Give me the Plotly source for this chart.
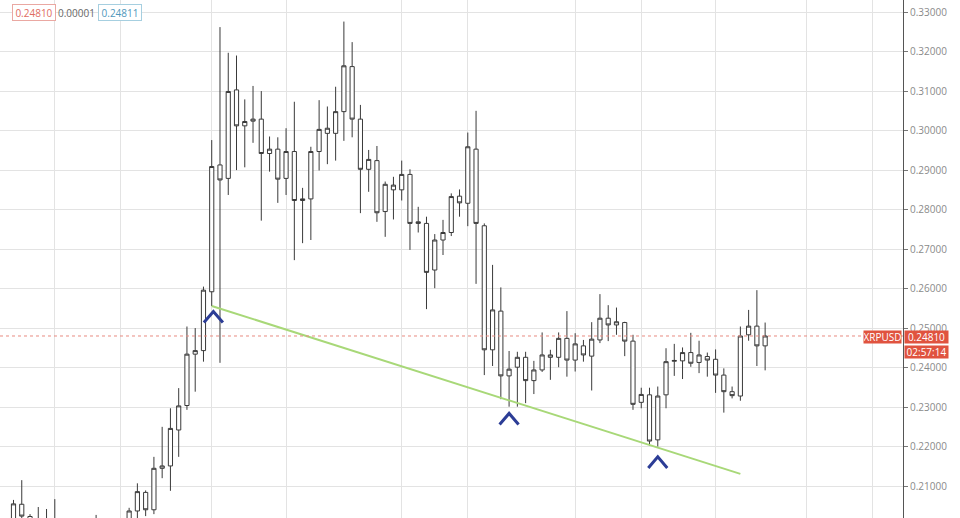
import plotly.graph_objects as go

# ---- data ----
opens = [0.2012, 0.2055, 0.2024, 0.2000, 0.2015, 0.1995, 0.2010, 0.1980, 0.1965, 0.1975,
         0.1990, 0.2005, 0.1985, 0.2000, 0.2010, 0.2038, 0.2085, 0.2041, 0.2146, 0.2152,
         0.2243, 0.2305, 0.2435, 0.2444, 0.2593, 0.2914, 0.2880, 0.3104, 0.3013, 0.3025,
         0.3030, 0.2943, 0.2954, 0.2880, 0.2948, 0.2824, 0.2828, 0.2948, 0.2994, 0.2994,
         0.3049, 0.3163, 0.3030, 0.2903, 0.2925, 0.2796, 0.2851, 0.2851, 0.2890, 0.2766,
         0.2766, 0.2648, 0.2724, 0.2743, 0.2835, 0.2817, 0.2954, 0.2760, 0.2446, 0.2544,
         0.2380, 0.2402, 0.2427, 0.2368, 0.2395, 0.2427, 0.2427, 0.2475, 0.2420, 0.2456,
         0.2430, 0.2471, 0.2526, 0.2509, 0.2515, 0.2468, 0.2313, 0.2332, 0.2218, 0.2332,
         0.2417, 0.2418, 0.2439, 0.2414, 0.2429, 0.2422, 0.2382, 0.2340, 0.2329, 0.2484,
         0.2506, 0.2456]
highs = [0.2066, 0.2116, 0.2030, 0.2048, 0.2043, 0.2068, 0.2018, 0.1995, 0.1990, 0.2010,
         0.2028, 0.2015, 0.2018, 0.2015, 0.2046, 0.2108, 0.2090, 0.2175, 0.2251, 0.2298,
         0.2349, 0.2505, 0.2501, 0.2606, 0.2977, 0.3263, 0.3198, 0.3191, 0.3080, 0.3114,
         0.3101, 0.2986, 0.2984, 0.3007, 0.3074, 0.2856, 0.2960, 0.3078, 0.3062, 0.3112,
         0.3277, 0.3225, 0.3066, 0.2952, 0.2962, 0.2872, 0.2884, 0.2925, 0.2903, 0.2808,
         0.2783, 0.2739, 0.2775, 0.2842, 0.2852, 0.2996, 0.3051, 0.2766, 0.2661, 0.2604,
         0.2443, 0.2441, 0.2441, 0.2418, 0.2490, 0.2446, 0.2490, 0.2544, 0.2488, 0.2471,
         0.2516, 0.2587, 0.2559, 0.2553, 0.2517, 0.2484, 0.2350, 0.2350, 0.2353, 0.2450,
         0.2461, 0.2452, 0.2489, 0.2469, 0.2439, 0.2447, 0.2399, 0.2353, 0.2505, 0.2547,
         0.2597, 0.2515]
lows = [0.1990, 0.2000, 0.1985, 0.1975, 0.1970, 0.1960, 0.1950, 0.1930, 0.1940, 0.1955,
        0.1970, 0.1960, 0.1965, 0.1975, 0.1995, 0.2020, 0.2025, 0.2030, 0.2121, 0.2089,
        0.2175, 0.2294, 0.2340, 0.2416, 0.2557, 0.2413, 0.2838, 0.2901, 0.2908, 0.2970,
        0.2773, 0.2897, 0.2818, 0.2838, 0.2673, 0.2716, 0.2724, 0.2900, 0.2916, 0.2925,
        0.2975, 0.2984, 0.2792, 0.2846, 0.2770, 0.2732, 0.2776, 0.2824, 0.2699, 0.2743,
        0.2549, 0.2602, 0.2686, 0.2734, 0.2783, 0.2759, 0.2613, 0.2382, 0.2405, 0.2321,
        0.2302, 0.2302, 0.2311, 0.2334, 0.2390, 0.2370, 0.2402, 0.2378, 0.2391, 0.2416,
        0.2343, 0.2463, 0.2468, 0.2484, 0.2430, 0.2294, 0.2298, 0.2203, 0.2201, 0.2298,
        0.2380, 0.2372, 0.2403, 0.2387, 0.2378, 0.2337, 0.2287, 0.2323, 0.2317, 0.2469,
        0.2405, 0.2394]
closes = [0.2056, 0.2025, 0.2000, 0.2015, 0.1995, 0.2010, 0.1980, 0.1965, 0.1975, 0.1990,
          0.2005, 0.1985, 0.2000, 0.2010, 0.2038, 0.2087, 0.2041, 0.2146, 0.2152, 0.2247,
          0.2304, 0.2435, 0.2444, 0.2597, 0.2910, 0.2876, 0.3100, 0.3013, 0.3024, 0.3030,
          0.2943, 0.2954, 0.2878, 0.2948, 0.2824, 0.2828, 0.2948, 0.3004, 0.3007, 0.3049,
          0.3165, 0.3030, 0.2903, 0.2928, 0.2793, 0.2865, 0.2863, 0.2890, 0.2766, 0.2770,
          0.2642, 0.2724, 0.2743, 0.2834, 0.2818, 0.2960, 0.2766, 0.2446, 0.2547, 0.2380,
          0.2397, 0.2427, 0.2368, 0.2395, 0.2433, 0.2433, 0.2475, 0.2420, 0.2461, 0.2433,
          0.2473, 0.2526, 0.2509, 0.2517, 0.2468, 0.2308, 0.2333, 0.2215, 0.2329, 0.2416,
          0.2419, 0.2439, 0.2412, 0.2433, 0.2420, 0.2382, 0.2340, 0.2330, 0.2481, 0.2506,
          0.2456, 0.2481]
bars = list(range(len(closes)))

symbol = "XRPUSD"
last_price = 0.24810
ask_price = 0.24811
spread = "0.00001"
countdown = "02:57:14"

# time-grid positions (bar numbers of the vertical grid lines)
grid_bars = [5, 13, 24, 33, 47, 55, 68, 76, 85, 96, 104]
price_ticks = [0.21, 0.22, 0.23, 0.24, 0.25, 0.26, 0.27, 0.28, 0.29, 0.30, 0.31, 0.32, 0.33]

# trend line (bar, price) and pivot markers
trend_bars = [24, 88]
trend_prices = [0.2557, 0.2132]
pivot_bars = [24.2, 60, 78]
pivot_prices = [0.2543, 0.2285, 0.2175]

X_RANGE = [-1.634, 107.69]
Y_RANGE = [0.20202, 0.33316]
PLOT_W, PLOT_H = 903, 518

fig = go.Figure()

fig.add_trace(go.Candlestick(
    x=bars, open=opens, high=highs, low=lows, close=closes,
    increasing=dict(fillcolor="white", line=dict(color="#3a3a3a", width=1)),
    decreasing=dict(fillcolor="white", line=dict(color="#3a3a3a", width=1)),
    whiskerwidth=0, showlegend=False, hoverinfo="skip",
))

fig.add_trace(go.Scatter(
    x=trend_bars, y=trend_prices, mode="lines",
    line=dict(color="#a8d878", width=2), showlegend=False, hoverinfo="skip",
))

cx, cy = [], []
for b, p in zip(pivot_bars, pivot_prices):
    cx += [b - 1.15, b, b + 1.15, None]
    cy += [p - 0.0028, p, p - 0.0028, None]
fig.add_trace(go.Scatter(
    x=cx, y=cy, mode="lines",
    line=dict(color="#2c3d96", width=3), showlegend=False, hoverinfo="skip",
))

# last price dotted line
fig.add_shape(type="line", xref="paper", yref="y", x0=0, x1=1,
              y0=last_price, y1=last_price,
              line=dict(color="#e88a80", width=1, dash="dot"))


def px_x(p):
    return p / PLOT_W


def px_y(p):
    return 1 - p / PLOT_H


def label(x, y, text, **kw):
    fig.add_annotation(xref="paper", yref="paper", x=px_x(x), y=px_y(y),
                       xanchor="center", yanchor="middle", text=text,
                       showarrow=False, **kw)


red = "#e0533f"
lab_font = dict(color="white", size=10, family="Open Sans")
label(882, 337, symbol, bgcolor=red, width=37, height=12, borderpad=0, font=lab_font)
label(926, 337, f"{last_price:.5f}", bgcolor=red, width=43, height=12, borderpad=0,
      font=lab_font)
label(926, 352, countdown, bgcolor=red, width=43, height=12, borderpad=0, font=lab_font)

# top-left quote boxes
label(34, 12.5, f"{last_price:.5f}", bgcolor="white", bordercolor="#eaa8a2",
      borderwidth=1, borderpad=2, width=38, height=11,
      font=dict(color="#e06c62", size=10, family="Open Sans"))
label(76.5, 12.5, spread, font=dict(color="#666666", size=10, family="Open Sans"))
label(120, 12.5, f"{ask_price:.5f}", bgcolor="white", bordercolor="#a6cfe0",
      borderwidth=1, borderpad=2, width=38, height=11,
      font=dict(color="#4f97bb", size=10, family="Open Sans"))

fig.update_layout(
    width=960, height=518,
    margin=dict(l=0, r=57, t=0, b=0),
    paper_bgcolor="white", plot_bgcolor="white",
    boxgap=0.28,
    hovermode=False,
    xaxis=dict(range=X_RANGE, tickvals=grid_bars, showticklabels=False, ticks="",
               showgrid=True, gridcolor="#e3e3e3", gridwidth=1, zeroline=False,
               showline=False, rangeslider=dict(visible=False), fixedrange=True),
    yaxis=dict(range=Y_RANGE, side="right", tickvals=price_ticks, tickformat=".5f",
               showgrid=True, gridcolor="#e3e3e3", gridwidth=1, zeroline=False,
               showline=True, linecolor="#555555", linewidth=1,
               ticks="outside", ticklen=4, tickcolor="#777777",
               tickfont=dict(color="#8a8a8a", size=10, family="Open Sans"),
               fixedrange=True),
)

fig.write_html("out.html",
               config={"displayModeBar": False, "staticPlot": True},
               post_script="document.body.style.margin='0';document.body.style.padding='0';")
